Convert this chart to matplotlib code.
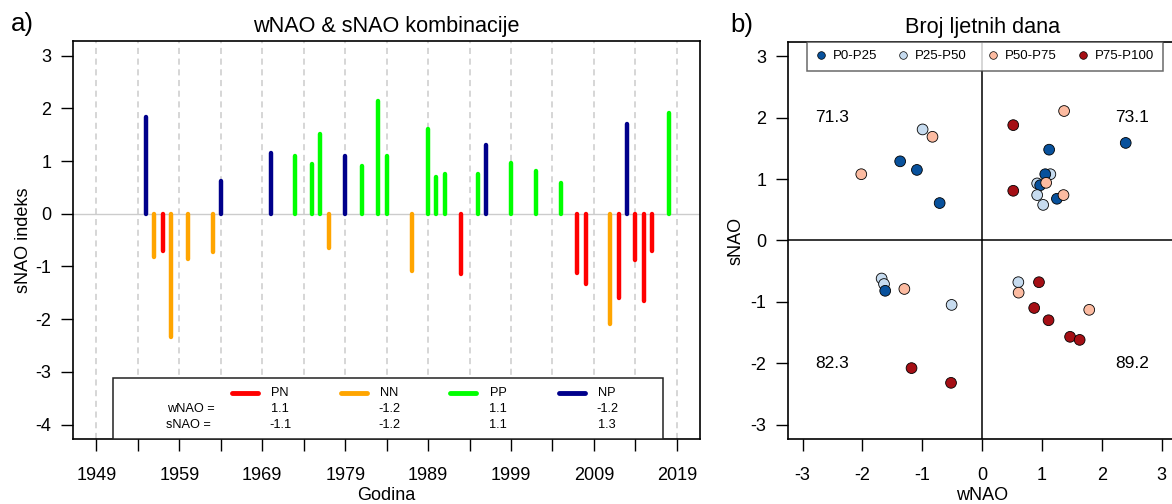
import matplotlib.pyplot as plt
from matplotlib.lines import Line2D
from matplotlib.patches import Rectangle

plt.rcParams['font.family'] = ['Liberation Sans', 'DejaVu Sans']
plt.rcParams['axes.unicode_minus'] = False

# panel a) - sNAO per year, coloured by wNAO/sNAO sign combination
years = [1955, 1956, 1957, 1958, 1960, 1963, 1964, 1970, 1973, 1975, 1976, 1977,
         1979, 1981, 1983, 1984, 1987, 1989, 1990, 1991, 1993, 1995, 1996, 1999,
         2002, 2005, 2007, 2008, 2011, 2012, 2013, 2014, 2015, 2016, 2018]
snao_year = [1.83, -0.82, -0.70, -2.34, -0.85, -0.73, 0.63, 1.16, 1.09, 0.94, 1.51, -0.65,
             1.09, 0.90, 2.14, 1.09, -1.08, 1.61, 0.70, 0.76, -1.15, 0.76, 1.30, 0.96,
             0.82, 0.58, -1.13, -1.34, -2.10, -1.59, 1.70, -0.87, -1.65, -0.70, 1.91]
combo = ['NP', 'NN', 'PN', 'NN', 'NN', 'NN', 'NP', 'NP', 'PP', 'PP', 'PP', 'NN',
         'NP', 'PP', 'PP', 'PP', 'NN', 'PP', 'PP', 'PP', 'PN', 'PP', 'NP', 'PP',
         'PP', 'PP', 'PN', 'PN', 'NN', 'PN', 'NP', 'PN', 'PN', 'PN', 'PP']

combo_names = ['PN', 'NN', 'PP', 'NP']
combo_colors = {'PN': '#FF0000', 'NN': '#FFA500', 'PP': '#00FF00', 'NP': '#00008B'}
combo_wnao = ['1.1', '-1.2', '1.1', '-1.2']
combo_snao = ['-1.1', '-1.2', '1.1', '1.3']

# panel b) - number of summer days, class by percentile
wnao_pts = [-2.02, -1.37, -0.995, -0.83, -1.09, -0.71,
            0.52, 1.37, 1.12, 2.40, 1.14, 1.055, 0.92, 0.97, 1.07, 0.52, 0.92, 1.02, 1.25, 1.36,
            -1.68, -1.64, -1.62, -1.30, -0.51, -1.18, -0.52,
            0.605, 0.61, 0.95, 0.87, 1.11, 1.47, 1.63, 1.79]
snao_pts = [1.08, 1.29, 1.81, 1.69, 1.15, 0.61,
            1.88, 2.11, 1.48, 1.59, 1.08, 1.08, 0.93, 0.90, 0.94, 0.81, 0.74, 0.58, 0.68, 0.74,
            -0.62, -0.71, -0.82, -0.79, -1.05, -2.08, -2.32,
            -0.68, -0.85, -0.68, -1.10, -1.30, -1.57, -1.62, -1.13]
pclass = [2, 0, 1, 2, 0, 0,
          3, 2, 0, 0, 1, 0, 1, 0, 2, 3, 1, 1, 0, 2,
          1, 1, 0, 2, 1, 3, 3,
          1, 2, 3, 3, 3, 3, 3, 2]
class_names = ['P0-P25', 'P25-P50', 'P50-P75', 'P75-P100']
class_colors = ['#08519C', '#C6DBEF', '#FCBBA1', '#A50F15']

quad_x = [-2.5, 2.5, -2.5, 2.5]
quad_y = [2, 2, -2, -2]
quad_vals = ['71.3', '73.1', '82.3', '89.2']

fig = plt.figure(figsize=(11.72, 5.04), dpi=100)

# ---------- a) ----------
ax1 = fig.add_axes([0.0625, 0.1284, 0.5348, 0.7903])
for x in range(1949, 2020, 5):
    ax1.axvline(x, color='#cccccc', ls=(0, (4, 3)), lw=1.1, zorder=0)
ax1.axhline(0, color='#cccccc', lw=1.0, zorder=0)

cols = [combo_colors[c] for c in combo]
vl = ax1.vlines(years, 0, snao_year, colors=cols, lw=3.2, zorder=2)
vl.set_capstyle('round')

ax1.set_xlim(1946.2, 2021.8)
ax1.set_ylim(-4.28, 3.28)
ax1.set_xticks(range(1949, 2020, 5))
ax1.set_xticklabels([str(y) if (y - 1949) % 10 == 0 else '' for y in range(1949, 2020, 5)])
ax1.set_yticks(range(-4, 4))
ax1.tick_params(labelsize=13, length=8.3, width=1, pad=7.5)
ax1.tick_params(axis='x', pad=11.5)
ax1.set_xlabel('Godina', fontsize=13, labelpad=2.5)
ax1.set_ylabel('sNAO indeks', fontsize=13, labelpad=2.5)
ax1.set_title('wNAO & sNAO kombinacije', fontsize=15.6, pad=6.5)
for s in ax1.spines.values():
    s.set_linewidth(1.2)

# legend box with class means
ax1.add_patch(Rectangle((0.0629, 0.0), 0.878, 0.1527, transform=ax1.transAxes,
                        facecolor='white', edgecolor='#222222', lw=1.1, zorder=5))
ax1.text(0.187, 0.0753, 'wNAO =', transform=ax1.transAxes, ha='center', va='center',
         fontsize=9.2, zorder=6)
ax1.text(0.184, 0.0359, 'sNAO =', transform=ax1.transAxes, ha='center', va='center',
         fontsize=9.2, zorder=6)
for i, name in enumerate(combo_names):
    x0 = 0.253 + i * 0.1739
    ax1.plot([x0, x0 + 0.042], [0.1155, 0.1155], transform=ax1.transAxes,
             color=combo_colors[name], lw=3.5, solid_capstyle='round', zorder=6)
    xc = 0.3298 + i * 0.1739
    ax1.text(xc, 0.1155, name, transform=ax1.transAxes, ha='center', va='center',
             fontsize=9.2, zorder=6)
    ax1.text(xc, 0.0753, combo_wnao[i], transform=ax1.transAxes, ha='center',
             va='center', fontsize=9.2, zorder=6)
    ax1.text(xc, 0.0359, combo_snao[i], transform=ax1.transAxes, ha='center',
             va='center', fontsize=9.2, zorder=6)

# ---------- b) ----------
ax2 = fig.add_axes([0.6726, 0.1284, 0.3308, 0.7889])
ax2.axvline(0, color='black', lw=1.1, zorder=1)
ax2.axhline(0, color='black', lw=1.1, zorder=1)
ax2.scatter(wnao_pts, snao_pts, c=[class_colors[k] for k in pclass], s=60,
            edgecolors='black', linewidths=0.6, zorder=3)
for qx, qy, qv in zip(quad_x, quad_y, quad_vals):
    ax2.text(qx, qy, qv, ha='center', va='center', fontsize=12.5)

ax2.set_xlim(-3.24, 3.24)
ax2.set_ylim(-3.24, 3.24)
ax2.set_xticks(range(-3, 4))
ax2.set_yticks(range(-3, 4))
ax2.tick_params(labelsize=13, length=8.3, width=1, pad=7.5)
ax2.tick_params(axis='x', pad=11.5)
ax2.set_xlabel('wNAO', fontsize=13, labelpad=2.5)
ax2.set_ylabel('sNAO', fontsize=13, labelpad=4)
ax2.set_title('Broj ljetnih dana', fontsize=15.6, pad=6.5)
for s in ax2.spines.values():
    s.set_linewidth(1.2)

handles = [Line2D([], [], ls='none', marker='o', ms=5.5, mfc=c, mec='black', mew=0.5)
           for c in class_colors]
leg = ax2.legend(handles, class_names, ncol=4, loc='upper left',
                 bbox_to_anchor=(0.0475, 1.0), borderaxespad=0, fontsize=9.5,
                 fancybox=False, edgecolor='#444444', handlelength=0.8,
                 handletextpad=0.5, columnspacing=1.6, borderpad=0.65)
leg.get_frame().set_linewidth(1.1)

fig.text(0.0188, 0.952, 'a)', fontsize=18.5, ha='center', va='center')
fig.text(0.6327, 0.950, 'b)', fontsize=18.5, ha='center', va='center')

fig.savefig('out.png', dpi=100)
